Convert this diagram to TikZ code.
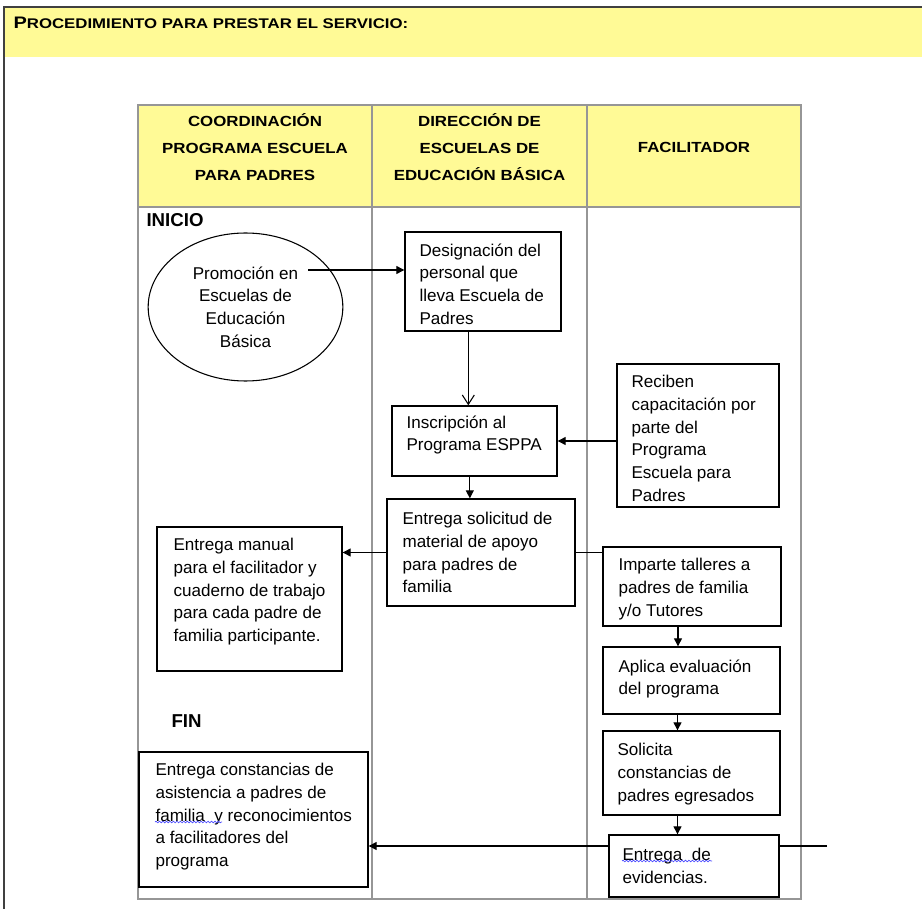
\documentclass[tikz,border=0pt]{standalone}
\usepackage{fontspec}
\setmainfont{Liberation Sans}
\newfontfamily\hdrfont[FakeStretch=1.15]{Liberation Sans}
\newfontfamily\ttlfont[FakeStretch=1.2]{Liberation Sans}
\usetikzlibrary{arrows.meta,shapes.geometric,fit,decorations.pathmorphing}
\definecolor{hdryellow}{RGB}{255,250,150}
\definecolor{lanegray}{RGB}{150,150,150}

\begin{document}
\begin{tikzpicture}[x=0.75pt,y=-0.75pt,->,>={Triangle[length=6pt,width=6pt]},line width=0.8pt,
    box/.style={draw,line width=1pt,inner sep=0pt,fill=white},
    txt/.style={anchor=north west,inner sep=0pt,align=left,font=\fontsize{12.8}{17}\selectfont},
    hdr/.style={align=center,font=\hdrfont\bfseries\fontsize{11}{20.5}\selectfont},
    big/.style={anchor=base west,inner sep=0pt,font=\bfseries\fontsize{14}{17}\selectfont},
    lane/.style={-,draw=lanegray,line width=1.1pt},
    wavy/.style={-,draw=blue!70,line width=0.5pt,decorate,
      decoration={snake,amplitude=0.6pt,segment length=2.6pt}}]
\useasboundingbox (0,0) rectangle (922,909);

% title band
\fill[hdryellow] (4,7) rectangle (922,57);
\draw[-,line width=1.2pt,black!75] (4,909) -- (4,7) -- (922,7);
\node[anchor=base west,inner sep=0pt,font=\ttlfont\bfseries] (title) at (13,29)
  {{\fontsize{12.5}{14}\selectfont P}{\fontsize{10.5}{12}\selectfont ROCEDIMIENTO PARA PRESTAR EL SERVICIO:}};

% lanes
\fill[hdryellow] (138,105) rectangle (801,207);
\draw[lane] (138,105) rectangle (801,899);
\draw[lane] (138,207) -- (801,207);
\draw[lane] (372,105) -- (372,899);
\draw[lane] (587,105) -- (587,899);

\node[hdr] (h1) at (255,147) {COORDINACIÓN\\PROGRAMA ESCUELA\\PARA PADRES};
\node[hdr] (h2) at (479.5,147) {DIRECCIÓN DE\\ESCUELAS DE\\EDUCACIÓN BÁSICA};
\node[hdr] (h3) at (694,147) {FACILITADOR};

\node[big] (inicio) at (146,227) {INICIO};
\node[big] (fin) at (171,727) {FIN};

% steps
\node[draw,ellipse,minimum width=146pt,minimum height=111pt,inner sep=0pt,align=center,
  font=\fontsize{12.8}{17}\selectfont] (prom) at (245.5,307) {Promoción en\\Escuelas de\\Educación\\Básica};

\node[box,fit={(405,232) (561,331)}] (des) {};
\node[txt] (dest) at (419,243) {Designación del\\personal que\\lleva Escuela de\\Padres};

\node[box,fit={(392,406) (557,476)}] (ins) {};
\node[txt] (inst) at (406,415) {Inscripción al\\Programa ESPPA};

\node[box,fit={(617,364) (779,507)}] (rec) {};
\node[txt] (rect) at (631,375) {Reciben\\capacitación por\\parte del\\Programa\\Escuela para\\Padres};

\node[box,fit={(387,499) (575,606)}] (sol) {};
\node[txt] (solt) at (402,512) {Entrega solicitud de\\material de apoyo\\para padres de\\familia};

\node[box,fit={(157,527) (342,671)}] (man) {};
\node[txt] (mant) at (173,538) {Entrega manual\\para el facilitador y\\cuaderno de trabajo\\para cada padre de\\familia participante.};

\node[box,fit={(603,547) (781,626)}] (imp) {};
\node[txt] (impt) at (618,558) {Imparte talleres a\\padres de familia\\y/o Tutores};

\node[box,fit={(603,647) (780,714)}] (apl) {};
\node[txt] (aplt) at (618,659) {Aplica evaluación\\del programa};

\node[box,fit={(603,731) (780,815)}] (sct) {};
\node[txt] (sctt) at (617,743) {Solicita\\constancias de\\padres egresados};

\node[box,fit={(609,835) (779,897)}] (evi) {};
\node[txt] (evit) at (622,848) {Entrega\ \ de\\evidencias.};

\node[box,fit={(139,752) (368,887)}] (con) {};
\node[txt] (cont) at (155,763) {Entrega constancias de\\asistencia a padres de\\familia\ \ y reconocimientos\\a facilitadores del\\programa};

\draw[wavy] (622,861) -- (712,861);
\draw[wavy] (155,822) -- (222,822);

% flow
\coordinate (start) at (308,270);
\coordinate (tail) at (827,846);

\draw (start) -- (start -| des.west);
\draw[-{Straight Barb[length=7pt,width=9pt]}] ([xshift=-11pt]des.south) -- ([xshift=-11pt]des.south |- ins.north);
\draw ([xshift=-3.5pt]ins.south) -- ([xshift=-3.5pt]ins.south |- sol.north);
\draw (rec.west |- ins.east) -- (ins.east);
\draw (sol.west) -- (sol.west -| man.east);
\draw[-] (sol.east) -- (sol.east -| imp.west);
\draw ([xshift=-10.5pt]imp.south) -- ([xshift=-10.5pt]imp.south |- apl.north);
\draw ([xshift=-10.5pt]apl.south) -- ([xshift=-10.5pt]apl.south |- sct.north);
\draw ([xshift=-10.5pt]sct.south) -- ([xshift=-10.5pt]sct.south |- evi.north);
\draw[-] (tail) -- (tail -| evi.east);
\draw (tail -| evi.west) -- (tail -| con.east);

\end{tikzpicture}
\end{document}
